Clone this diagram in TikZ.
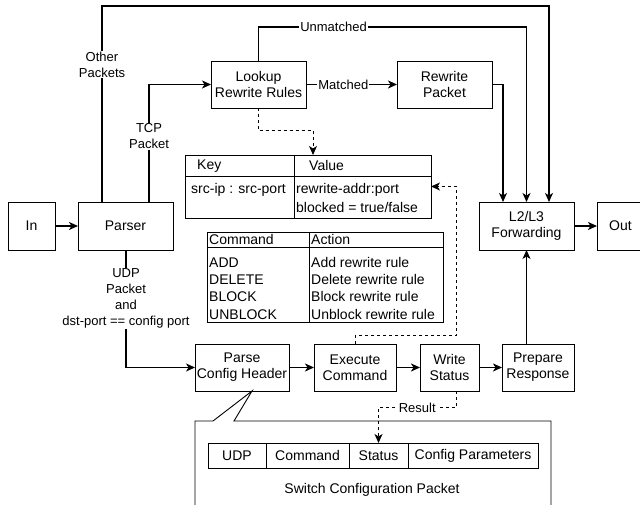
\documentclass[tikz,border=0pt]{standalone}
\usepackage{fontspec}
\setmainfont{Liberation Sans}
\usetikzlibrary{arrows.meta,positioning}

\begin{document}
\begin{tikzpicture}[x=1bp,y=1bp,>={Stealth[length=9bp,width=8bp,inset=2.5bp]},line join=miter,
  box/.style={draw,line width=0.9bp,align=center,inner sep=0pt,outer sep=0pt,font=\fontsize{14bp}{16bp}\selectfont},
  flow/.style={->,line width=1.1bp},
  thickflow/.style={->,line width=1.9bp},
  dashflow/.style={->,line width=1bp,dash pattern=on 3bp off 3bp},
  lbl/.style={fill=white,inner sep=1bp,align=center,font=\fontsize{13bp}{15.7bp}\selectfont},
  txt/.style={anchor=west,inner sep=0pt,font=\fontsize{14bp}{16bp}\selectfont},
  cell/.style={draw,line width=0.9bp,inner sep=0pt,outer sep=0pt,minimum height=25bp,font=\fontsize{14bp}{16bp}\selectfont}]
\useasboundingbox (0,0) rectangle (640,505);
  % Node: In
  \node[box,minimum width=47bp,minimum height=48bp] (In) at (31.5,279) {In};
  % Node: Parser
  \node[box,minimum width=95bp,minimum height=48bp] (Parser) at (125.5,279) {Parser};
  % Node: Lookup
  \node[box,minimum width=95bp,minimum height=47bp] (Lookup) at (258.5,420.5) {Lookup\\Rewrite Rules};
  % Node: Rewrite
  \node[box,minimum width=95bp,minimum height=47bp] (Rewrite) at (444.5,420.5) {Rewrite\\Packet};
  % Node: L2L3
  \node[box,minimum width=95bp,minimum height=48bp] (L2L3) at (526.5,279) {L2/L3\\Forwarding};
  % Node: Out
  \node[box,minimum width=47bp,minimum height=48bp] (Out) at (620.5,279) {Out};
  % Node: Parse
  \node[box,minimum width=94bp,minimum height=47bp] (Parse) at (242,137.5) {Parse\\Config Header};
  % Node: Execute
  \node[box,minimum width=82bp,minimum height=47bp] (Execute) at (355,137.5) {Execute\\Command};
  % Node: Write
  \node[box,minimum width=59bp,minimum height=47bp] (Write) at (449.5,137.5) {Write\\Status};
  % Node: Prepare
  \node[box,minimum width=72bp,minimum height=47bp] (Prepare) at (538,137.5) {Prepare\\Response};
  % Node: rule table
  \node[box,minimum width=246bp,minimum height=63bp] (rules) at (308,318.5) {};
  \draw[line width=0.9bp] (rules.north west) ++(0,-21) -- ++(246,0);
  \draw[line width=0.9bp] (rules.north west) ++(109,0) -- ++(0,-63);
  \node[txt] (keyhead) at (197,339) {Key};
  \node[txt] (valhead) at (309,339) {Value};
  \node[txt] (keyrow) at (191,315) {src-ip : src-port};
  \node[txt] (valrow) at (296,315) {rewrite-addr:port};
  \node[txt] (blockrow) at (296,297) {blocked = true/false};
  % Node: command table
  \node[box,minimum width=236bp,minimum height=90bp] (cmds) at (325,228) {};
  \draw[line width=0.9bp] (cmds.north west) ++(0,-15) -- ++(236,0);
  \draw[line width=0.9bp] (cmds.north west) ++(102,0) -- ++(0,-90);
  \node[txt] (cmdhead) at (209,265) {Command};
  \node[txt] (acthead) at (311,265) {Action};
  \foreach \cmd/\act/\y [count=\i] in {ADD/Add rewrite rule/242,DELETE/Delete rewrite rule/225,BLOCK/Block rewrite rule/208,UNBLOCK/Unblock rewrite rule/190} {
    \node[txt] (cmd\i) at (209,\y) {\cmd};
    \node[txt] (act\i) at (311,\y) {\act};
  }
  % Callout: switch configuration packet
  \draw[line width=0.9bp] (195,-10) -- (195,84) -- (213,84) -- ([xshift=10bp]Parse.south) -- (234,84) -- (551,84) -- (551,-10);
  \node[cell,minimum width=58bp] (udp) at (237,49.5) {UDP};
  \node[cell,minimum width=83bp,right=0bp of udp] (command) {Command};
  \node[cell,minimum width=59bp,right=0bp of command] (status) {Status};
  \node[cell,minimum width=130bp,right=0bp of status] (params) {Config Parameters};
  \node[txt,anchor=center] (pkttitle) at (372,15) {Switch Configuration Packet};
  % Edge: In -> Parser
  \draw[thickflow] (In) -- (Parser);
  % Edge: Parser -> L2L3 (other packets)
  \draw[flow] ([xshift=-23.5bp]Parser.north) -- ++(0,196) node[lbl,pos=0.7] {Other\\Packets} -| ([xshift=22.5bp]L2L3.north);
  % Edge: Parser -> Lookup
  \draw[flow] ([xshift=23.5bp]Parser.north) |- (Lookup.west) node[lbl,pos=0.28] {TCP\\Packet};
  % Edge: Lookup -> L2L3 (unmatched)
  \draw[flow] (Lookup.north) -- ++(0,34) -| (L2L3.north) node[lbl,pos=0.14] {Unmatched};
  % Edge: Lookup -> Rewrite
  \draw[thickflow] (Lookup) -- (Rewrite) node[lbl,pos=0.41] {Matched};
  % Edge: Rewrite -> L2L3
  \draw[flow] (Rewrite.east) -| ([xshift=-23.5bp]L2L3.north);
  % Edge: L2L3 -> Out
  \draw[thickflow] (L2L3) -- (Out);
  % Edge: Lookup -> rule table
  \draw[dashflow] (Lookup.south) -- ++(0,-23) -| ([xshift=5bp]rules.north);
  % Edge: Parser -> Parse
  \draw[flow] ([xshift=0.5bp]Parser.south) |- (Parse.west) node[lbl,pos=0.206] {UDP\\Packet\\and\\dst-port == config port};
  % Edge: Parse -> Execute -> Write -> Prepare
  \draw[thickflow] (Parse) -- (Execute);
  \draw[thickflow] (Execute) -- (Write);
  \draw[thickflow] (Write) -- (Prepare);
  % Edge: Prepare -> L2L3
  \draw[flow] (Prepare.north -| L2L3.south) -- (L2L3.south);
  % Edge: Execute -> rule table
  \draw[dashflow] (Execute.north) -- ++(0,8) -| ([xshift=25bp]rules.east) -- (rules.east);
  % Edge: Write -> status field
  \draw[dashflow] ([xshift=6.5bp]Write.south) -- ++(0,-17) -| (status.north) node[lbl,pos=0.25] {Result};
\end{tikzpicture}
\end{document}
